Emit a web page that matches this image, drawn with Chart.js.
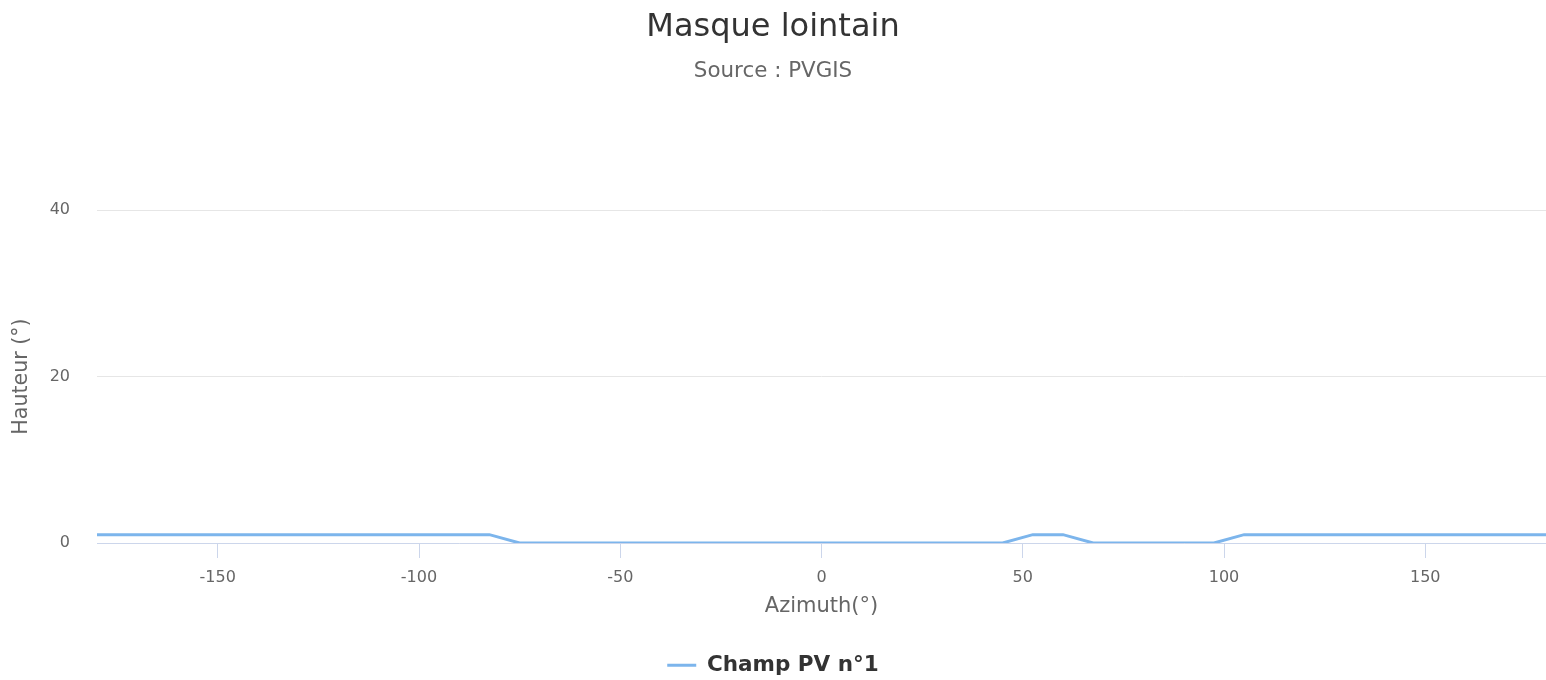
<!DOCTYPE html>
<html>
<head>
<meta charset="utf-8">
<script src="https://cdn.jsdelivr.net/npm/chart.js@4"></script>
<style>
  html, body { margin: 0; padding: 0; background: #fff; }
  #wrap { width: 1546px; height: 680px; }
</style>
</head>
<body>
<div id="wrap"><canvas id="maskChart" width="1546" height="680"></canvas></div>
<script>
// Horizon profile, PVGIS steps of 7.5 degrees
const azimuths = [-180, -172.5, -165, -157.5, -150, -142.5, -135, -127.5, -120, -112.5,
    -105, -97.5, -90, -82.5, -75, -67.5, -60, -52.5, -45, -37.5,
    -30, -22.5, -15, -7.5, 0, 7.5, 15, 22.5, 30, 37.5,
    45, 52.5, 60, 67.5, 75, 82.5, 90, 97.5, 105, 112.5,
    120, 127.5, 135, 142.5, 150, 157.5, 165, 172.5, 180];
const hauteurs = [1, 1, 1, 1, 1, 1, 1, 1, 1, 1,
    1, 1, 1, 1, 0, 0, 0, 0, 0, 0,
    0, 0, 0, 0, 0, 0, 0, 0, 0, 0,
    0, 1, 1, 0, 0, 0, 0, 0, 1, 1,
    1, 1, 1, 1, 1, 1, 1, 1, 1];
const xTicks = [-150, -100, -50, 0, 50, 100, 150];
const yTicks = [0, 20, 40];

const fontFamily = '"DejaVu Sans", Verdana, sans-serif';

document.addEventListener('DOMContentLoaded', function() {
    const ctx = document.getElementById('maskChart').getContext('2d');
    new Chart(ctx, {
        type: 'line',
        data: {
            datasets: [{
                label: 'Champ PV n°1',
                data: azimuths.map((a, i) => ({ x: a, y: hauteurs[i] })),
                borderColor: '#7cb5ec',
                backgroundColor: '#7cb5ec',
                borderWidth: 3,
                pointRadius: 0,
                pointHoverRadius: 0,
                pointStyle: 'line',
                tension: 0,
                fill: false
            }]
        },
        options: {
            responsive: false,
            animation: false,
            layout: { padding: { top: 0, left: 0, right: 0, bottom: -6 } },
            plugins: {
                title: {
                    display: true,
                    text: 'Masque lointain',
                    color: '#333333',
                    font: { family: fontFamily, size: 32, weight: 'normal' },
                    padding: { top: 8, bottom: 4 }
                },
                subtitle: {
                    display: true,
                    text: 'Source : PVGIS',
                    color: '#666666',
                    font: { family: fontFamily, size: 21.4 },
                    padding: { top: 8, bottom: 126 }
                },
                legend: {
                    position: 'bottom',
                    labels: {
                        usePointStyle: true,
                        pointStyleWidth: 29,
                        color: '#333333',
                        font: { family: fontFamily, size: 21.5, weight: 'bold' },
                        padding: 4
                    }
                },
                tooltip: { enabled: false }
            },
            scales: {
                x: {
                    type: 'linear',
                    min: -180,
                    max: 180,
                    afterBuildTicks: function(axis) {
                        axis.ticks = xTicks.map(v => ({ value: v }));
                    },
                    afterFit: function(axis) {
                        axis.height = 107.5;
                    },
                    ticks: {
                        color: '#666666',
                        font: { family: fontFamily, size: 16 },
                        padding: 10,
                        maxRotation: 0,
                        autoSkip: false
                    },
                    grid: {
                        drawOnChartArea: false,
                        drawTicks: true,
                        tickLength: 15,
                        color: '#ccd6eb'
                    },
                    border: { display: true, color: '#ccd6eb', width: 1 },
                    title: {
                        display: true,
                        text: 'Azimuth(°)',
                        color: '#666666',
                        font: { family: fontFamily, size: 21 },
                        padding: { top: 31, bottom: 31 }
                    }
                },
                y: {
                    min: 0,
                    max: 40,
                    afterBuildTicks: function(axis) {
                        axis.ticks = yTicks.map(v => ({ value: v }));
                    },
                    afterFit: function(axis) {
                        axis.width = 97;
                    },
                    ticks: {
                        color: '#666666',
                        font: { family: fontFamily, size: 16 },
                        padding: 27
                    },
                    grid: {
                        color: '#e6e6e6',
                        drawTicks: false
                    },
                    border: { display: false },
                    title: {
                        display: true,
                        text: 'Hauteur (°)',
                        color: '#666666',
                        font: { family: fontFamily, size: 20.6 },
                        padding: { top: 9.5, bottom: 9.5 }
                    }
                }
            }
        }
    });
});
</script>
</body>
</html>
